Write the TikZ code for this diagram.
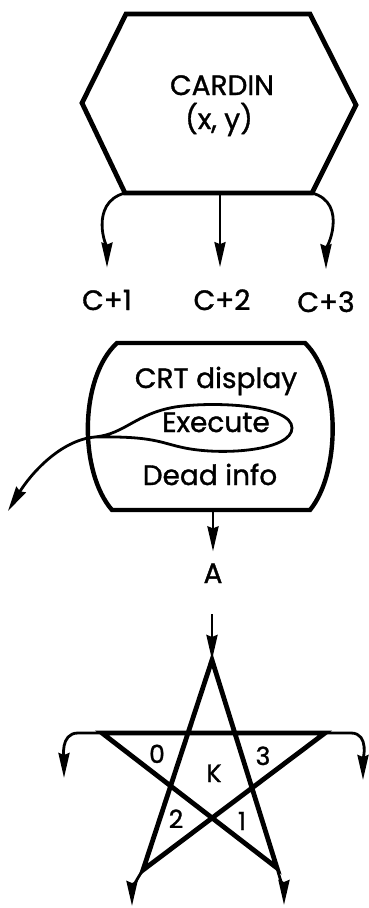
\documentclass[tikz,border=0pt]{standalone}
\usepackage{fontspec}
\setmainfont{Poppins}[FakeBold=1.2]
\usetikzlibrary{arrows.meta}

\tikzset{
  flow/.style={line width=2.8pt, -{Stealth[length=25pt,width=11pt,inset=2pt]}},
  outline/.style={line width=4.4pt, line join=miter},
  lbl/.style={font=\fontsize{28}{34}\selectfont, anchor=base, inner sep=0pt},
  tag/.style={font=\fontsize{25}{30}\selectfont, anchor=base, inner sep=0pt}
}

\begin{document}
\begin{tikzpicture}[x=1pt,y=1pt]
\useasboundingbox (0,0) rectangle (369,-908);
% CARDIN hexagon
\coordinate (hex-bl) at (125,-193);
\coordinate (hex-bm) at (220,-193);
\coordinate (hex-br) at (312,-193);
\draw[outline, line width=4.8pt] (126,-14) -- (310,-14) -- (356,-105) -- (hex-br)
  -- (hex-bl) -- (82,-103) -- cycle;
\node[lbl] (cardin) at (222,-95) {CARDIN};
\node[lbl] (cardxy) at (219,-129) {(x, y)};
\node[lbl] (c1) at (107,-310) {C+1};
\node[lbl] (c2) at (222,-310) {C+2};
\node[lbl] (c3) at (326,-312) {C+3};
\draw[flow, shorten >=22pt] (hex-bl) to[out=195,in=90] (c1.north);
\draw[flow, shorten >=22pt] (hex-bm) -- (hex-bm |- c2.north);
\draw[flow, shorten >=22pt] (hex-br) to[out=-15,in=90] (c3.north);
% CRT display
\coordinate (crt-s) at (213,-510);
\draw[outline] (117,-343) -- (305,-343)
  .. controls (341,-378) and (341,-472) .. (310,-510) -- (112,-510)
  .. controls (79,-472) and (79,-378) .. cycle;
\node[lbl] (crt) at (216,-388) {CRT display};
\node[lbl] (exec) at (216,-432) {Execute};
\node[lbl] (dead) at (210,-485) {Dead info};
% balloon round Execute and its exit
\coordinate (tail) at (95,-437);
\coordinate (exit) at (8,-511);
\draw[line width=2.8pt] (tail) .. controls (125,-434) and (135,-414) .. (175,-407)
  .. controls (215,-401) and (292,-405) .. (292,-428)
  .. controls (292,-450) and (225,-456) .. (185,-448)
  .. controls (160,-443) and (155,-436) .. (tail);
\draw[flow] (tail) .. controls (60,-440) and (30,-475) .. (exit);
\node[lbl] (a) at (213,-583) {A};
\draw[flow, shorten >=12pt] (crt-s) -- (a.north);
% star with K
\coordinate (s-in) at (212,-614);
\coordinate (s-top) at (212,-660);
\coordinate (s-left) at (102,-733);
\coordinate (s-right) at (325,-733);
\coordinate (s-bl) at (143,-870);
\coordinate (s-br) at (277,-868);
\coordinate (s-outl) at (64,-778);
\coordinate (s-outr) at (363,-780);
\coordinate (s-outbl) at (132,-906);
\coordinate (s-outbr) at (284,-905);
\draw[outline, line width=4.8pt] (s-top) -- (s-bl) -- (s-right) -- (s-left)
  -- (s-br) -- cycle;
\draw[flow] (s-in) -- (s-top);
\draw[flow] (s-left) -- ++(-24,0) to[out=180,in=90] (s-outl);
\draw[flow] (s-right) -- ++(26,0) to[out=0,in=90] (s-outr);
\draw[flow] (s-bl) to[out=235,in=90] (s-outbl);
\draw[flow] (s-br) to[out=-75,in=90] (s-outbr);
\node[tag] (k0) at (157,-763) {0};
\node[tag] (kk) at (214,-782) {K};
\node[tag] (k3) at (263,-765) {3};
\node[tag] (k2) at (176,-828) {2};
\node[tag] (k1) at (242,-830) {1};
\end{tikzpicture}
\end{document}
